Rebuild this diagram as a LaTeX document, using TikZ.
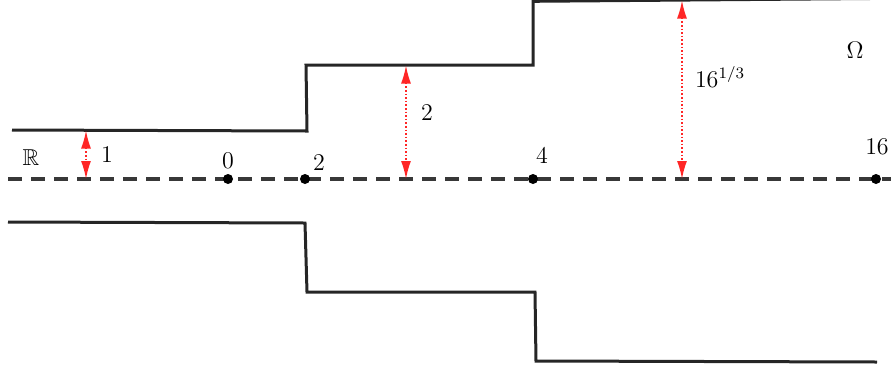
\documentclass[tikz,border=0pt]{standalone}
\usepackage{amssymb}
\usetikzlibrary{arrows.meta}
\begin{document}
\begin{tikzpicture}[x=0.5pt,y=-0.5pt,
  wall/.style={line width=1.5pt, draw=black!85, line join=miter},
  axisline/.style={line width=1.6pt, draw=black!78, dash pattern=on 7pt off 4.5pt},
  dotpt/.style={circle, fill=black, inner sep=0pt, minimum size=5pt},
  lbl/.style={font=\fontsize{11.5}{13}\selectfont, inner sep=0pt},
  gap/.style={draw=red!85!white, line width=0.8pt, densely dotted,
    {Latex[length=9pt,width=5pt]}-{Latex[length=9pt,width=5pt]}}
]
\clip (0,0) rectangle (891,371);
% axis
\coordinate (axL) at (8,179);
\coordinate (axR) at (891,179);
\draw[axisline] (axL) -- (axR);
\node[dotpt] (p0) at (228,179) {};
\node[dotpt] (p2) at (305,179) {};
\node[dotpt] (p4) at (533,179) {};
\node[dotpt] (p16) at (876,179) {};
% upper wall
\coordinate (u1) at (12,130);
\coordinate (u2) at (307,131);
\coordinate (u3) at (306,65);
\coordinate (u4) at (533,65);
\coordinate (u5) at (533,1.3);
\coordinate (u6) at (870,-1.5);
\draw[wall] (u1) -- (u2) -- (u3) -- (u4) -- (u5) -- (u6);
% lower wall
\coordinate (l1) at (8,222);
\coordinate (l2) at (305,223);
\coordinate (l3) at (307,292);
\coordinate (l4) at (535,292);
\coordinate (l5) at (536,361);
\coordinate (l6) at (877,362);
\draw[wall] (l1) -- (l2) -- (l3) -- (l4) -- (l5) -- (l6);
% gaps
\coordinate (a1t) at (86,130.5);
\coordinate (a1b) at (86,179);
\coordinate (a2t) at (406,65.5);
\coordinate (a2b) at (406,179);
\coordinate (a3t) at (682,0.5);
\coordinate (a3b) at (682,179);
\draw[gap] (a1t) -- (a1b);
\draw[gap] (a2t) -- (a2b);
\draw[gap] (a3t) -- (a3b);
% labels
\node[lbl] (tR) at (31,158) {$\mathbb{R}$};
\node[lbl] (t1) at (107,155) {$1$};
\node[lbl] (t0) at (228,161) {$0$};
\node[lbl] (t2) at (319,163) {$2$};
\node[lbl] (t4) at (542,156) {$4$};
\node[lbl] (t16) at (877,147) {$16$};
\node[lbl] (th2) at (427,113) {$2$};
\node[lbl] (th3) at (720,77) {$16^{1/3}$};
\node[lbl] (tO) at (855,50) {$\Omega$};
\end{tikzpicture}
\end{document}
